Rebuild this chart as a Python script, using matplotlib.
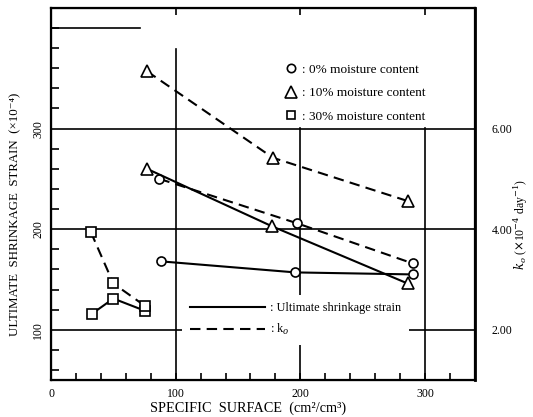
import matplotlib
matplotlib.use("Agg")
import matplotlib.pyplot as plt
from matplotlib.lines import Line2D
from matplotlib.ticker import MultipleLocator

plt.rcParams['font.family'] = ['Liberation Serif', 'DejaVu Serif']
plt.rcParams['mathtext.fontset'] = 'dejavuserif'

# specific surface (cm2/cm3) and values
# 0% moisture content (circles)
ss_c_u = [88, 196, 290]
us_c = [168, 157, 155]
ss_c_k = [87, 197, 290]
k_c = [5.00, 4.12, 3.32]
# 10% moisture content (triangles)
ss_t_u = [77, 177, 286]
us_t = [260, 203, 146]
ss_t_k = [77, 178, 286]
k_t = [7.14, 5.42, 4.56]
# 30% moisture content (squares)
ss_s_u = [33, 50, 75]
us_s = [116, 131, 119]
ss_s_k = [32, 50, 75]
k_s = [3.94, 2.92, 2.48]

xticks = [0, 100, 200, 300]
yticks = [100, 200, 300]
kticks = [2.0, 4.0, 6.0]

fig = plt.figure(figsize=(5.33, 4.17), dpi=100)
ax = fig.add_axes([0.0957, 0.0887, 0.7953, 0.8923])
ax.set_xlim(0, 340)
ax.set_ylim(50, 420)

# grid pieces as in the scan
for y in yticks:
    ax.axhline(y, color='black', lw=1.2, zorder=1)
ax.axvline(100, ymax=0.89, color='black', lw=1.2, zorder=1)
ax.axvline(200, ymax=0.676, color='black', lw=1.2, zorder=1)
ax.axvline(300, ymax=0.676, color='black', lw=1.2, zorder=1)
ax.axhline(400, xmax=0.21, color='black', lw=1.2, zorder=1)

ax.set_xticks(xticks)
ax.set_xticklabels([str(v) for v in xticks])
ax.xaxis.set_minor_locator(MultipleLocator(20))
ax.set_yticks(yticks)
ax.set_yticklabels([str(v) for v in yticks], rotation=90, va='center')
ax.yaxis.set_minor_locator(MultipleLocator(20))
ax.tick_params(axis='x', which='major', direction='in', length=5, width=1.2,
               top=True, labelsize=8.5, pad=6)
ax.tick_params(axis='x', which='minor', direction='in', length=5, width=1.2, top=False)
ax.tick_params(axis='y', which='major', direction='in', length=0, labelsize=8.5, pad=5)
ax.tick_params(axis='y', which='minor', direction='in', length=6, width=1.2)
for s in ax.spines.values():
    s.set_linewidth(1.6)

ax.set_xlabel('SPECIFIC  SURFACE  (cm²/cm³)', fontsize=10.3)
ax.xaxis.set_label_coords(0.465, -0.058)
ax.set_ylabel('ULTIMATE  SHRINKAGE  STRAIN  (×10⁻⁴)', fontsize=9.3)
ax.yaxis.set_label_coords(-0.07, 0.445)

ax2 = ax.twinx()
ax2.set_ylim(1.0, 8.4)
ax2.set_yticks(kticks)
ax2.set_yticklabels(['%.2f' % v for v in kticks])
ax2.tick_params(axis='y', length=0, labelsize=8.5, pad=12)
ax2.spines['right'].set_linewidth(2)
ax2.set_ylabel(r'$k_o$ ($\times$10$^{-4}$ day$^{-1}$)', fontsize=8.5)
ax2.yaxis.set_label_coords(1.085, 0.417)

solid = dict(color='black', lw=1.5, ls='-', markerfacecolor='white', markeredgecolor='black',
             markeredgewidth=1.2)
dashed = dict(color='black', lw=1.5, ls=(0, (5, 3)), markerfacecolor='white',
              markeredgecolor='black', markeredgewidth=1.2)

ax2.plot(ss_c_u, [v / 50 for v in us_c], marker='o', ms=6.5, **solid)
ax2.plot(ss_c_k, k_c, marker='o', ms=6.5, **dashed)
ax2.plot(ss_t_u, [v / 50 for v in us_t], marker='^', ms=9, **solid)
ax2.plot(ss_t_k, k_t, marker='^', ms=9, **dashed)
ax2.plot(ss_s_u, [v / 50 for v in us_s], marker='s', ms=7, **solid)
ax2.plot(ss_s_k, k_s, marker='s', ms=7, **dashed)

mk = dict(color='black', ls='none', markerfacecolor='white', markeredgewidth=1.2)
h1 = [Line2D([], [], marker='o', ms=6, **mk),
      Line2D([], [], marker='^', ms=8, **mk),
      Line2D([], [], marker='s', ms=6, **mk)]
leg1 = ax2.legend(h1, [': 0% moisture content', ': 10% moisture content',
                       ': 30% moisture content'],
                  loc='upper left', bbox_to_anchor=(0.535, 0.868), frameon=False,
                  fontsize=9.5, handlelength=1.0, handletextpad=0.3, labelspacing=0.85,
                  borderpad=0)
ax2.add_artist(leg1)

h2 = [Line2D([], [], color='black', lw=1.5, ls='-'),
      Line2D([], [], color='black', lw=1.5, ls=(0, (5, 3)))]
leg2 = ax2.legend(h2, [': Ultimate shrinkage strain', r': k$_o$'],
                  loc='upper left', bbox_to_anchor=(0.295, 0.245), frameon=True,
                  facecolor='white', edgecolor='none', framealpha=1, fancybox=False,
                  fontsize=8.8, handlelength=6.2, handletextpad=0.4, labelspacing=0.65,
                  borderpad=0.6)

fig.savefig('out.png', dpi=100)
